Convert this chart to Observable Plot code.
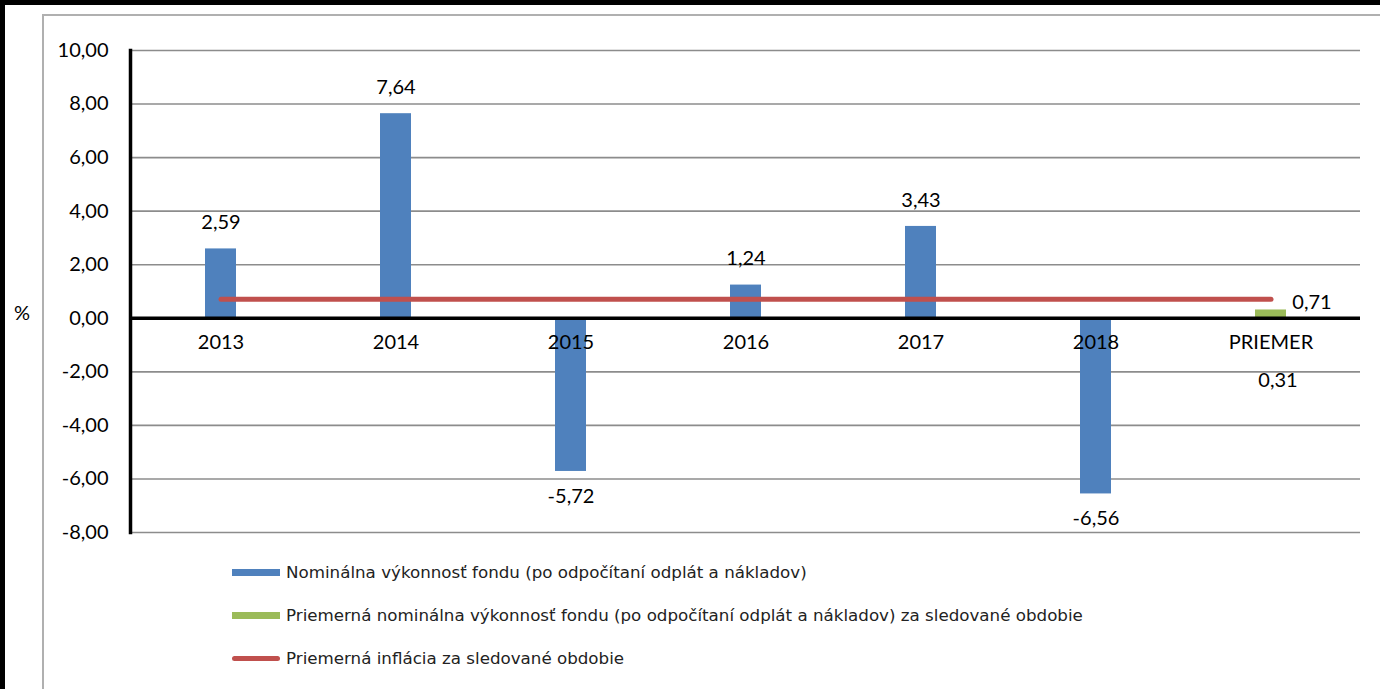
<!DOCTYPE html>
<html>
<head>
<meta charset="utf-8">
<script src="https://cdn.jsdelivr.net/npm/d3@7"></script>
<script src="https://cdn.jsdelivr.net/npm/@observablehq/plot@0.6"></script>
<style>
  html, body { margin: 0; padding: 0; background: #fff; }
  #page { position: relative; width: 1380px; height: 689px; overflow: hidden; background: #fff; font-family: Lato, sans-serif; }
  #outer { position: absolute; left: 0; top: 0; width: 1400px; height: 700px; border-top: 5px solid #000; border-left: 5px solid #000; box-sizing: border-box; }
  #inner { position: absolute; left: 42px; top: 14px; width: 1400px; height: 700px; border-top: 2px solid #b0b0b0; border-left: 2px solid #b0b0b0; box-sizing: border-box; }
  #chart { position: absolute; left: 0; top: 0; }
  #pct { position: absolute; left: 14px; top: 300px; font-size: 20px; }
  #legend { position: absolute; left: 232px; top: 558px; font-family: "DejaVu Sans", sans-serif; font-size: 16.7px; color: #222; }
  .item { display: flex; align-items: center; height: 28px; margin-bottom: 15px; }
  .sw { width: 48px; height: 7px; margin-right: 6px; }
  .sw.line { height: 5px; border-radius: 3px; }
</style>
</head>
<body>
<div id="page">
  <div id="outer"></div>
  <div id="inner"></div>
  <div id="chart"></div>
  <div id="pct">%</div>
  <div id="legend"></div>
</div>
<script>
const categories = ["2013", "2014", "2015", "2016", "2017", "2018", "PRIEMER"];
const fundValues = [2.59, 7.64, -5.72, 1.24, 3.43, -6.56];
const averageValue = 0.31;
const inflationValue = 0.71;
const yTicks = [-8, -6, -4, -2, 0, 2, 4, 6, 8, 10];
const seriesNames = [
  "Nominálna výkonnosť fondu (po odpočítaní odplát a nákladov)",
  "Priemerná nominálna výkonnosť fondu (po odpočítaní odplát a nákladov) za sledované obdobie",
  "Priemerná inflácia za sledované obdobie"
];
const colors = ["#4F81BD", "#9BBB59", "#C0504D"];

const fmt = v => v.toFixed(2).replace(".", ",");

const fundData = fundValues.map((v, i) => ({cat: categories[i], value: v}));
const avgData = [{cat: "PRIEMER", value: averageValue}];
const inflData = categories.map(c => ({cat: c, value: inflationValue}));

const chart = Plot.plot({
  width: 1380,
  height: 545,
  marginLeft: 130,
  marginRight: 20,
  marginTop: 50,
  marginBottom: 13,
  style: {fontFamily: "Lato, sans-serif", fontSize: "20px", color: "#000", background: "transparent", overflow: "visible"},
  x: {domain: categories, padding: 0, axis: null},
  y: {domain: [-8, 10], ticks: yTicks},
  marks: [
    Plot.gridY(yTicks, {stroke: "#8c8c8c", strokeOpacity: 1, strokeWidth: 1.6}),
    Plot.axisY(yTicks, {tickSize: 0, tickPadding: 22, tickFormat: fmt, fontSize: 20, label: null}),
    Plot.barY(fundData, {x: "cat", y: "value", fill: colors[0], insetLeft: 72, insetRight: 72}),
    Plot.barY(avgData, {x: "cat", y: "value", fill: colors[1], insetLeft: 72, insetRight: 72}),
    Plot.ruleY([0], {stroke: "#000", strokeWidth: 3.5}),
    Plot.frame({anchor: "left", stroke: "#000", strokeWidth: 3.5}),
    Plot.lineY(inflData, {x: "cat", y: "value", stroke: colors[2], strokeWidth: 5, strokeLinecap: "round"}),
    Plot.text(fundData.filter(d => d.value >= 0), {x: "cat", y: "value", text: d => fmt(d.value), dy: -26, fontSize: 20}),
    Plot.text(fundData.filter(d => d.value < 0), {x: "cat", y: "value", text: d => fmt(d.value), dy: 25, fontSize: 20}),
    Plot.text(avgData, {x: "cat", y: "value", text: d => fmt(d.value), dy: 71, dx: 7, fontSize: 20}),
    Plot.text([{cat: "PRIEMER", value: inflationValue}], {x: "cat", y: "value", text: d => fmt(d.value), dx: 41, dy: 3, fontSize: 20}),
    Plot.text(categories, {x: d => d, y: 0, text: d => d, dy: 24, fontSize: 20})
  ]
});
document.getElementById("chart").appendChild(chart);

const legend = document.getElementById("legend");
seriesNames.forEach((name, i) => {
  const item = document.createElement("div");
  item.className = "item";
  const sw = document.createElement("div");
  sw.className = "sw" + (i === 2 ? " line" : "");
  sw.style.background = colors[i];
  const label = document.createElement("span");
  label.textContent = name;
  item.appendChild(sw);
  item.appendChild(label);
  legend.appendChild(item);
});
</script>
</body>
</html>
